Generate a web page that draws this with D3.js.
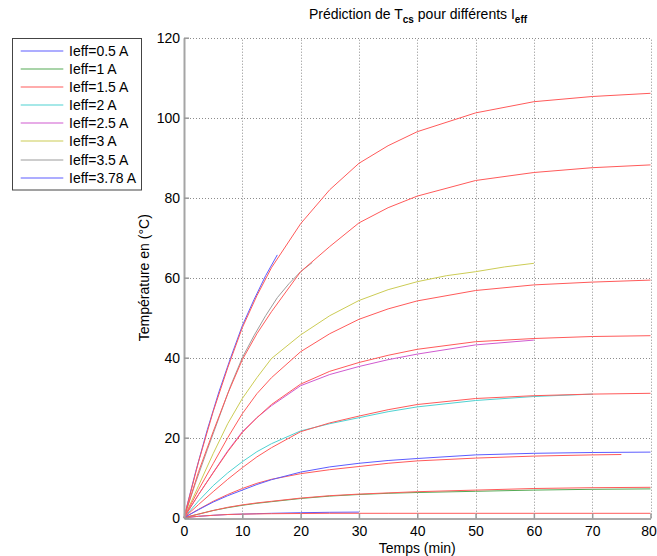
<!DOCTYPE html>
<html><head><meta charset="utf-8">
<script src="https://cdn.jsdelivr.net/npm/d3@7"></script>
<style>
html,body{margin:0;padding:0;background:#fff;}
svg{display:block;font-family:"Liberation Sans",Arial,Helvetica,sans-serif;}
</style></head>
<body><svg id="chart" width="657" height="556"></svg>
<script>
// ---------- DATA ----------
const legendLabels = ["Ieff=0.5 A","Ieff=1 A","Ieff=1.5 A","Ieff=2 A","Ieff=2.5 A","Ieff=3 A","Ieff=3.5 A","Ieff=3.78 A"];
const xTicks = [0,10,20,30,40,50,60,70,80];
const yTicks = [0,20,40,60,80,100,120];

// measured series
const tMeas05 = [0,2.5,5,7.5,10,12.5,15,20,25,30];
const vMeas05 = [0,0.35,0.6,0.8,0.9,1.0,1.1,1.25,1.35,1.4];
const tMeas1 = [0,2.5,5,7.5,10,12.5,15,20,25,30,35,40,50,60,70,80];
const vMeas1 = [0,0.9,1.8,2.5,3.1,3.6,4.0,4.8,5.4,5.8,6.1,6.3,6.6,6.9,7.1,7.2];
const tMeas15 = [0,2.5,5,7.5,10,12.5,15,20,25,30,35,40,50,60,70,75];
const vMeas15 = [0,2.1,4.1,5.8,7.3,8.6,9.6,11.0,12.0,12.8,13.6,14.2,14.9,15.4,15.7,15.8];
const tMeas2 = [0,2.5,5,7.5,10,12.5,15,20,25,30,35,40,50,60,70];
const vMeas2 = [0,4.2,8,11.2,14,16.5,18.5,21.7,23.5,25,26.5,27.7,29.3,30.3,30.9];
const tMeas25 = [0,2.5,5,7.5,10,12.5,15,20,25,30,35,40,50,60];
const vMeas25 = [0,5.8,11.3,16.7,21.5,25,28,33,35.8,37.8,39.5,40.9,43.2,44.4];
const tMeas3 = [0,2.5,5,7.5,10,12.5,15,20,25,30,35,40,45,50,55,60];
const vMeas3 = [0,8,16,23.5,29.8,35,39.8,45.7,50.5,54.3,57,59,60.5,61.5,62.7,63.6];
const tMeas35 = [0,2,4,6,8,10,12,14,16,18,20,22];
const vMeas35 = [0,8.8,17,25,33,40,45.5,50.5,55,58.5,61.5,63.8];
const tMeas378 = [0,2,4,6,8,10,12,14,16];
const vMeas378 = [0,11.5,22,31.5,40,48,54.5,60.5,65.7];

// model (prediction) series, all on the same time grid
const tModel = [0,2.5,5,7.5,10,12.5,15,20,25,30,35,40,50,60,70,80];
const vModelA = [0,0.35,0.6,0.8,0.9,0.95,1.0,1.05,1.1,1.1,1.1,1.1,1.1,1.1,1.1,1.1];
const vModelB = [0,0.9,1.8,2.6,3.2,3.7,4.1,4.9,5.5,5.9,6.2,6.5,6.9,7.3,7.5,7.6];
const vModelC = [0,2,3.9,5.5,6.9,8.3,9.5,11.4,12.7,13.6,14.3,14.8,15.7,16.1,16.3,16.4];
const vModelD = [0,3.3,6.5,9.6,12.5,15.2,17.5,21.5,23.7,25.4,27,28.3,29.8,30.5,30.9,31.1];
const vModelE = [0,5.8,11.2,16.5,21.3,25,28.3,33.4,36.6,38.8,40.6,42.1,44,44.8,45.3,45.5];
const vModelF = [0,7,13.5,20,26,31,35,41.5,46,49.6,52.2,54.2,56.8,58.2,58.9,59.4];
const vModelG = [0,11.5,21.5,31,39.5,46,51.5,61.5,67.8,73.7,77.5,80.4,84.3,86.3,87.5,88.2];
const vModelH = [0,14,26.5,37.5,47.5,55.5,62.5,73.5,82,88.6,93,96.5,101.2,104,105.3,106.1];

// colours (MATLAB default cycle b,g,r,c,m,y,k)
const legendColors = ["#5c5cff","#55aa55","#ff5a5a","#4fd2d2","#d05ad0","#cccc55","#9c9c9c","#5c5cff"];
const modelColors = ["#ff5a5a","#ff5a5a","#5c5cff","#ff5a5a","#ff5a5a","#ff5a5a","#ff5a5a","#ff5a5a"];

// ---------- BUILD ----------
const zip = (t,v) => t.map((d,i)=>[d,v[i]]);
const measured = [
  zip(tMeas05,vMeas05), zip(tMeas1,vMeas1), zip(tMeas15,vMeas15), zip(tMeas2,vMeas2),
  zip(tMeas25,vMeas25), zip(tMeas3,vMeas3), zip(tMeas35,vMeas35), zip(tMeas378,vMeas378)
];
const models = [vModelA,vModelB,vModelC,vModelD,vModelE,vModelF,vModelG,vModelH].map(v=>zip(tModel,v));

const svg = d3.select("#chart");
const L = 184, R = 650.5, T = 37.7, B = 517.7;
const x = d3.scaleLinear().domain([0,80]).range([L,R]);
const y = d3.scaleLinear().domain([0,120]).range([B,T]);

// grid
const grid = svg.append("g").attr("stroke","#8c8c8c").attr("stroke-width",1).attr("stroke-dasharray","1,2");
xTicks.filter(d=>d>0).forEach(d=>{
  grid.append("line").attr("x1",Math.round(x(d))+0.5).attr("x2",Math.round(x(d))+0.5).attr("y1",y(0)).attr("y2",y(120));
});
yTicks.filter(d=>d>0).forEach(d=>{
  grid.append("line").attr("y1",Math.round(y(d))+0.5).attr("y2",Math.round(y(d))+0.5).attr("x1",x(0)).attr("x2",x(80));
});

// lines
const line = d3.line().x(d=>x(d[0])).y(d=>y(d[1]));
const lines = svg.append("g").attr("fill","none").attr("stroke-width",1);
measured.forEach((s,i)=>lines.append("path").attr("d",line(s)).attr("stroke",legendColors[i]));
models.forEach((s,i)=>lines.append("path").attr("d",line(s)).attr("stroke",modelColors[i]));

// axes
const fontSize = 14;
const xAxis = svg.append("g").attr("transform",`translate(0,${Math.round(B)+0.5})`)
  .call(d3.axisBottom(x).tickValues(xTicks).tickFormat(d3.format("d")).tickSize(-5).tickSizeOuter(0).tickPadding(8));
xAxis.select(".domain").attr("stroke","#555");
xAxis.selectAll(".tick line").attr("stroke","#999").attr("stroke-width",1.5);
xAxis.selectAll("text").attr("font-size",fontSize).attr("font-family","Liberation Sans, Arial, sans-serif").attr("fill","#000")
  .attr("dx",d=>d===80?"-2":null);

const yAxis = svg.append("g").attr("transform",`translate(${L},0)`)
  .call(d3.axisLeft(y).tickValues(yTicks).tickFormat(d3.format("d")).tickSize(-5).tickSizeOuter(0).tickPadding(4));
yAxis.select(".domain").attr("stroke","#a5a5a5").attr("stroke-width",2);
yAxis.selectAll(".tick line").attr("stroke","#999").attr("stroke-width",1.5);
yAxis.selectAll("text").attr("font-size",fontSize).attr("font-family","Liberation Sans, Arial, sans-serif").attr("fill","#000");

// axis labels
svg.append("text").attr("x",(L+R)/2).attr("y",553).attr("text-anchor","middle")
  .attr("font-size",fontSize).text("Temps (min)");
svg.append("text").attr("transform",`translate(149,${(T+B)/2}) rotate(-90)`).attr("text-anchor","middle")
  .attr("font-size",fontSize).text("Température en (°C)");

// title
const title = svg.append("text").attr("x",418).attr("y",19).attr("text-anchor","middle").attr("font-size",14);
title.append("tspan").text("Prédiction de T");
title.append("tspan").attr("dy",4).attr("font-size",10).attr("font-weight","bold").text("cs");
title.append("tspan").attr("dy",-4).text(" pour différents I");
title.append("tspan").attr("dy",4).attr("font-size",10).attr("font-weight","bold").text("eff");

// legend
const lg = svg.append("g");
lg.append("rect").attr("x",12.5).attr("y",38.5).attr("width",129).attr("height",151.5)
  .attr("fill","#fff").attr("stroke","#444").attr("stroke-width",1);
legendLabels.forEach((lab,i)=>{
  const yy = Math.round(50.7 + i*18.15);
  lg.append("line").attr("x1",20.7).attr("x2",63.3).attr("y1",yy).attr("y2",yy)
    .attr("stroke",legendColors[i]).attr("stroke-width",1.2);
  lg.append("text").attr("x",69).attr("y",yy).attr("dy","0.36em").attr("font-size",fontSize).text(lab);
});
</script></body></html>
